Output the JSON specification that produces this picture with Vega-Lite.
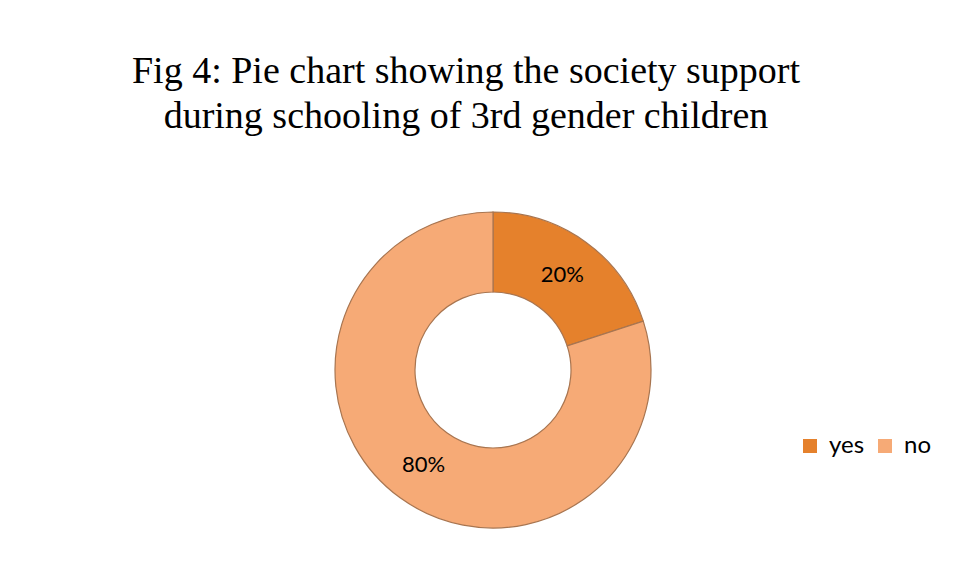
{
  "$schema": "https://vega.github.io/schema/vega-lite/v6.json",
  "autosize": {"type": "none"},
  "width": 316,
  "height": 316,
  "padding": {"left": 335, "top": 212, "right": 314, "bottom": 34},
  "background": "white",
  "title": {
    "text": ["Fig 4: Pie chart showing the society support", "during schooling of 3rd gender children"],
    "font": "Liberation Serif",
    "fontSize": 38,
    "fontWeight": "normal",
    "color": "#000000",
    "lineHeight": 45,
    "anchor": "middle",
    "frame": "group",
    "dx": -27,
    "offset": 74
  },
  "data": {
    "values": [
      {"answer": "yes", "share": 0.2},
      {"answer": "no", "share": 0.8}
    ]
  },
  "encoding": {
    "theta": {"field": "share", "type": "quantitative", "stack": true},
    "order": {"field": "share", "type": "quantitative", "sort": "ascending"}
  },
  "layer": [
    {
      "mark": {"type": "arc", "outerRadius": 158, "innerRadius": 78, "stroke": "#A87550", "strokeWidth": 1.2},
      "encoding": {
        "color": {
          "field": "answer",
          "type": "nominal",
          "scale": {"domain": ["yes", "no"], "range": ["#E5812C", "#F6AA76"]},
          "legend": {
            "title": null,
            "orient": "none",
            "direction": "horizontal",
            "columns": 2,
            "legendX": 463,
            "legendY": 222,
            "symbolType": "square",
            "symbolSize": 196,
            "symbolStrokeWidth": 0,
            "labelFont": "Lato",
            "labelFontSize": 24,
            "labelColor": "#000000",
            "columnPadding": 8,
            "labelOffset": 7
          }
        }
      }
    },
    {
      "mark": {"type": "text", "radius": 118, "font": "Lato", "fontSize": 22, "color": "#000000"},
      "encoding": {
        "text": {"field": "share", "type": "quantitative", "format": ".0%"}
      }
    }
  ]
}
